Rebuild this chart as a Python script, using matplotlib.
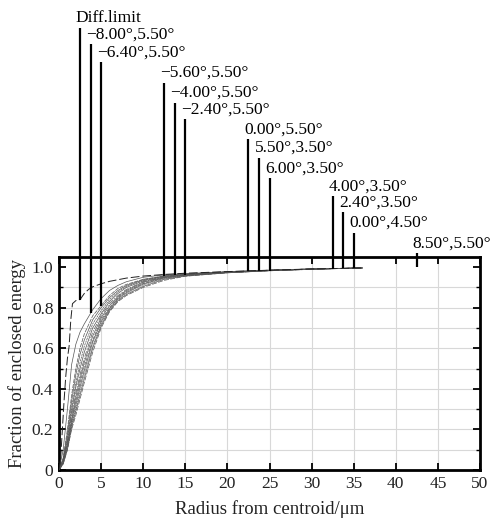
import numpy as np
import matplotlib
matplotlib.use("Agg")
import matplotlib.pyplot as plt
from matplotlib.ticker import MultipleLocator, FuncFormatter

plt.rcParams['font.family'] = ['Liberation Serif', 'DejaVu Serif']
plt.rcParams['mathtext.fontset'] = 'stix'

# ---------------- data ----------------
diff_r = [0, 0.2, 0.4, 0.6, 0.8, 1.0, 1.2, 1.4, 1.6, 2.0, 2.5, 3.0, 3.5, 4.0,
          5.0, 6.0, 8.0, 10, 12.5, 15, 20, 25, 30, 36]
diff_e = [0, 0.06, 0.20, 0.34, 0.46, 0.55, 0.61, 0.74, 0.82, 0.835, 0.84, 0.87,
          0.89, 0.903, 0.918, 0.93, 0.946, 0.956, 0.964, 0.97, 0.978, 0.985, 0.991, 0.996]

field_r = [0, 0.5, 1, 1.5, 2, 2.5, 3, 4, 5, 6, 7, 8, 10, 12.5, 15, 20, 25, 30, 36]
field_e = {
    "−8.00°,5.50°": [0, 0.10, 0.30, 0.52, 0.62, 0.68, 0.72, 0.79, 0.845, 0.885, 0.91, 0.928, 0.95, 0.962, 0.968, 0.978, 0.985, 0.991, 0.996],
    "−6.40°,5.50°": [0, 0.06, 0.20, 0.37, 0.50, 0.60, 0.67, 0.76, 0.81, 0.86, 0.895, 0.915, 0.94, 0.957, 0.966, 0.977, 0.985, 0.991, 0.996],
    "−5.60°,5.50°": [0, 0.055, 0.18, 0.34, 0.47, 0.57, 0.64, 0.74, 0.80, 0.85, 0.885, 0.91, 0.938, 0.956, 0.965, 0.976, 0.985, 0.991, 0.996],
    "−4.00°,5.50°": [0, 0.05, 0.16, 0.31, 0.43, 0.53, 0.61, 0.72, 0.785, 0.84, 0.878, 0.905, 0.935, 0.955, 0.964, 0.976, 0.984, 0.991, 0.996],
    "−2.40°,5.50°": [0, 0.05, 0.15, 0.29, 0.41, 0.50, 0.58, 0.70, 0.77, 0.83, 0.87, 0.90, 0.932, 0.953, 0.963, 0.975, 0.984, 0.991, 0.996],
    "0.00°,5.50°":  [0, 0.045, 0.14, 0.27, 0.38, 0.47, 0.55, 0.68, 0.76, 0.82, 0.86, 0.89, 0.928, 0.951, 0.962, 0.975, 0.984, 0.991, 0.996],
    "5.50°,3.50°":  [0, 0.04, 0.13, 0.25, 0.36, 0.45, 0.53, 0.66, 0.75, 0.81, 0.855, 0.885, 0.925, 0.95, 0.961, 0.974, 0.983, 0.990, 0.996],
    "6.00°,3.50°":  [0, 0.04, 0.12, 0.24, 0.34, 0.43, 0.51, 0.64, 0.74, 0.80, 0.85, 0.88, 0.92, 0.948, 0.96, 0.974, 0.983, 0.990, 0.996],
    "4.00°,3.50°":  [0, 0.035, 0.12, 0.23, 0.32, 0.41, 0.49, 0.63, 0.73, 0.795, 0.845, 0.875, 0.917, 0.946, 0.959, 0.973, 0.983, 0.990, 0.996],
    "2.40°,3.50°":  [0, 0.035, 0.11, 0.22, 0.30, 0.39, 0.47, 0.61, 0.72, 0.79, 0.84, 0.87, 0.912, 0.943, 0.958, 0.973, 0.983, 0.990, 0.996],
    "0.00°,4.50°":  [0, 0.03, 0.10, 0.21, 0.29, 0.37, 0.45, 0.60, 0.71, 0.785, 0.835, 0.865, 0.905, 0.94, 0.956, 0.972, 0.982, 0.989, 0.996],
    "8.50°,5.50°":  [0, 0.03, 0.10, 0.20, 0.27, 0.35, 0.43, 0.58, 0.70, 0.78, 0.83, 0.86, 0.90, 0.935, 0.955, 0.972, 0.982, 0.989, 0.996],
}

label_names = ["Diff.limit"] + list(field_e.keys())
label_r = [2.5, 3.75, 5.0, 12.5, 13.75, 15.0, 22.5, 23.75, 25.0, 32.5, 33.75, 35.0, 42.5]
label_top = [2.18, 2.10, 2.01, 1.91, 1.81, 1.73, 1.63, 1.54, 1.44, 1.35, 1.27, 1.17, 1.07]

x_ticks = list(range(0, 51, 5))
y_ticks = [0, 0.2, 0.4, 0.6, 0.8, 1.0]

# ---------------- figure ----------------
fig = plt.figure(figsize=(4.96, 5.22), dpi=100)
ax = fig.add_axes([59/496, 1-470/522, (480-59)/496, (470-257)/522])

styles = ['-', (0, (6, 1.5)), '-', (0, (3, 1)), '-', (0, (8, 2, 2, 2)),
          '-', (0, (5, 1.5)), '-', (0, (2, 1)), '-', (0, (7, 2))]
for (name, e), ls in zip(field_e.items(), styles):
    ax.plot(field_r, e, color='#555555', lw=0.5, ls=ls, zorder=3)
ax.plot(diff_r, diff_e, color='#222222', lw=0.7, ls=(0, (9, 3)), zorder=4)

# label leader lines and texts
curves = [(diff_r, diff_e)] + [(field_r, e) for e in field_e.values()]
for name, xr, top, (cr, ce) in zip(label_names, label_r, label_top, curves):
    bottom = float(np.interp(xr, cr, ce, right=1.0))
    ax.plot([xr, xr], [bottom, top], color='black', lw=1.6, clip_on=False,
            solid_capstyle='butt', zorder=5)
    ax.annotate(name, xy=(xr, top), xytext=(-3, 7), textcoords='offset points',
                ha='left', va='center', fontsize=12.5, annotation_clip=False)

ax.set_xlim(0, 50)
ax.set_ylim(0, 1.05)
ax.set_xticks(x_ticks)
ax.set_yticks(y_ticks)
ax.yaxis.set_minor_locator(MultipleLocator(0.1))
ax.yaxis.set_major_formatter(FuncFormatter(lambda v, p: "0" if abs(v) < 1e-9 else f"{v:.1f}"))
ax.tick_params(axis='both', which='major', direction='in', length=5, width=1.3,
               labelsize=12.5, top=True, right=True, pad=4, labelcolor='#222222')
ax.tick_params(axis='y', which='minor', direction='in', length=3, width=1.0,
               right=True, left=True)

ax.grid(True, which='both', color='#d8d8d8', lw=0.8, zorder=0)
ax.set_axisbelow(True)
ylines = ax.yaxis.get_gridlines()
ylines[-1].set_visible(False)

for s in ax.spines.values():
    s.set_linewidth(2.0)

ax.set_xlabel("Radius from centroid/μm", fontsize=13.5, labelpad=6, color='#222222')
ax.set_ylabel("Fraction of enclosed energy", fontsize=13.5, labelpad=4, color='#222222')

fig.savefig("out.png", dpi=100)
